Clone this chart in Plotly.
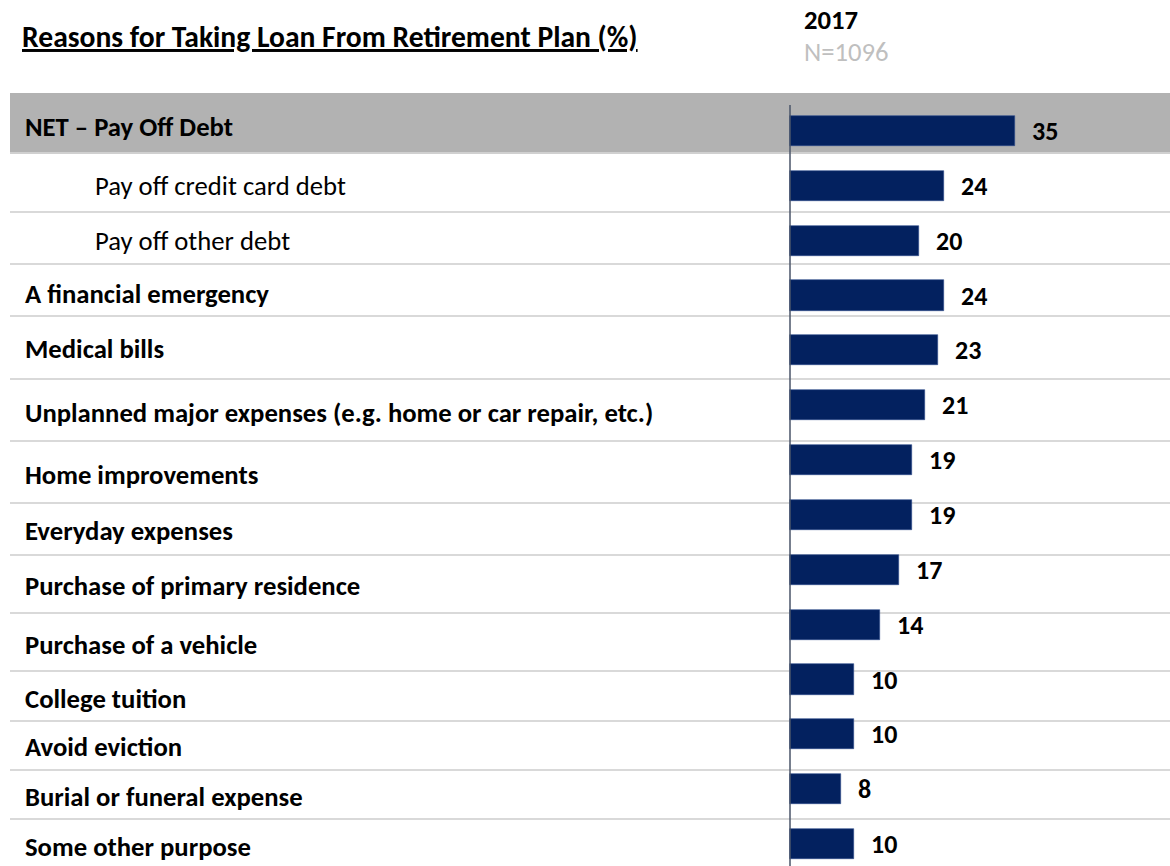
import plotly.graph_objects as go

# ---------------- data ----------------
categories = [
    "NET – Pay Off Debt",
    "Pay off credit card debt",
    "Pay off other debt",
    "A financial emergency",
    "Medical bills",
    "Unplanned major expenses (e.g. home or car repair, etc.)",
    "Home improvements",
    "Everyday expenses",
    "Purchase of primary residence",
    "Purchase of a vehicle",
    "College tuition",
    "Avoid eviction",
    "Burial or funeral expense",
    "Some other purpose",
]
values = [35, 24, 20, 24, 23, 21, 19, 19, 17, 14, 10, 10, 8, 10]
sub_items = [False, True, True, False, False, False, False, False, False, False, False, False, False, False]

title_text = "Reasons for Taking Loan From Retirement Plan (%)"
year_label = "2017"
base_label = "N=1096"

# ---------------- style / layout ----------------
W, H = 1170, 866
FONT = "Carlito, Lato, 'Open Sans', sans-serif"
BAR_COLOR = "#03215F"
ROW_PX = 54.85
FIRST_PX = 131.0

def px_to_row(p):
    return (p - FIRST_PX) / ROW_PX

label_yshift = [4, 0, 0, 2, 1, -8, -15, -16, -16, -20, -19, -13, -8, -3]
sep_px = [212, 264, 316, 379, 441, 503, 555, 613, 671, 721, 770, 819]

x_px_per_unit = 225 / 35.0
x_zero_px = 790
x_range = [-x_zero_px / x_px_per_unit, (W - x_zero_px) / x_px_per_unit]
y_range = [px_to_row(H), px_to_row(0)]

fig = go.Figure()
fig.add_trace(go.Bar(
    x=values, y=categories, orientation="h",
    marker=dict(color=BAR_COLOR, line=dict(color="#2E4C8C", width=0.6)),
    width=0.55, hoverinfo="skip", showlegend=False,
))

shapes = []
# gray band for NET row
shapes.append(dict(type="rect", xref="paper", yref="y", x0=10 / W, x1=1,
                   y0=px_to_row(93), y1=px_to_row(153), fillcolor="#B2B2B2",
                   line=dict(width=0), layer="below"))
shapes.append(dict(type="line", xref="paper", yref="y", x0=10 / W, x1=1,
                   y0=px_to_row(153), y1=px_to_row(153),
                   line=dict(color="#D0D0D0", width=2), layer="below"))
for p in sep_px:
    shapes.append(dict(type="line", xref="paper", yref="y", x0=10 / W, x1=1,
                       y0=px_to_row(p), y1=px_to_row(p),
                       line=dict(color="#D9D9D9", width=2), layer="below"))
# vertical axis line
shapes.append(dict(type="line", xref="x", yref="y", x0=0, x1=0,
                   y0=px_to_row(105), y1=px_to_row(H),
                   line=dict(color="#4A5468", width=1.5), layer="above"))

LABEL_SIZE = 26.7
annotations = []
for i, (cat, v) in enumerate(zip(categories, values)):
    annotations.append(dict(
        x=(95 if sub_items[i] else 25) / W, xref="paper", xanchor="left", xshift=-2,
        y=cat, yref="y", yanchor="middle", yshift=label_yshift[i],
        text=cat if sub_items[i] else f"<b>{cat}</b>",
        showarrow=False, font=dict(family=FONT, size=LABEL_SIZE, color="#000000"),
    ))
    annotations.append(dict(
        x=v, xref="x", xanchor="left", xshift=15,
        y=cat, yref="y", yanchor="middle",
        text=f"<b>{v}</b>", showarrow=False,
        font=dict(family=FONT, size=26, color="#000000"),
    ))

annotations.append(dict(x=22 / W, xref="paper", xanchor="left", xshift=-2, y=1 - 37 / H, yref="paper",
                        yanchor="middle", text=f"<b><u>{title_text}</u></b>", showarrow=False,
                        font=dict(family=FONT, size=29.6, color="#000000")))
annotations.append(dict(x=804 / W, xref="paper", xanchor="left", xshift=-2, y=1 - 20 / H, yref="paper",
                        yanchor="middle", text=f"<b>{year_label}</b>", showarrow=False,
                        font=dict(family=FONT, size=26.7, color="#000000")))
annotations.append(dict(x=804 / W, xref="paper", xanchor="left", xshift=-2, y=1 - 52 / H, yref="paper",
                        yanchor="middle", text=base_label, showarrow=False,
                        font=dict(family=FONT, size=26.7, color="#BFBFBF")))

fig.update_layout(
    width=W, height=H,
    margin=dict(l=0, r=0, t=0, b=0),
    paper_bgcolor="white", plot_bgcolor="white",
    xaxis=dict(range=x_range, visible=False, fixedrange=True),
    yaxis=dict(range=y_range, visible=False, type="category",
               categoryorder="array", categoryarray=categories, fixedrange=True),
    shapes=shapes, annotations=annotations,
    bargap=0,
)

fig.write_html("out.html", config={"displayModeBar": False},
               post_script="document.body.style.margin='0';document.body.style.padding='0';")
